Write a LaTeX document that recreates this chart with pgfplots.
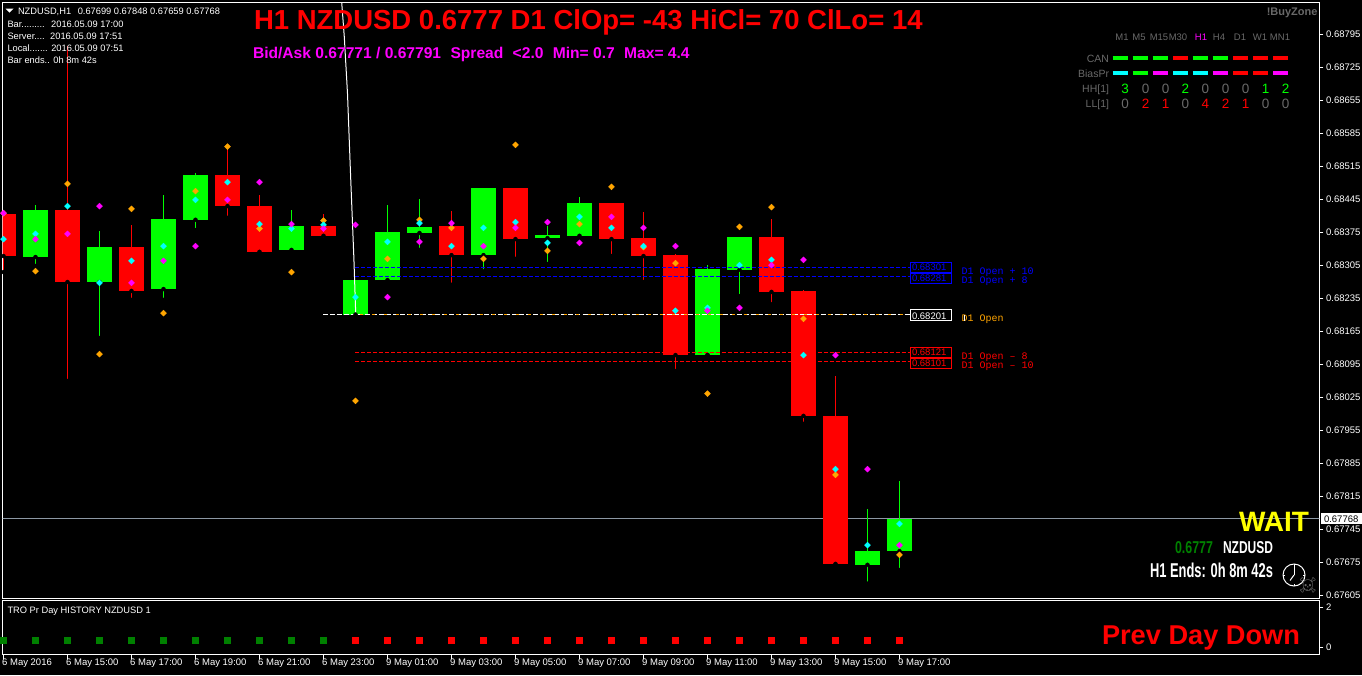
\documentclass[border=0pt]{standalone}
\usepackage{fontspec}
\setmainfont{Liberation Sans}
\newfontfamily\mono{Liberation Mono}
\newfontfamily\emojifont{Noto Emoji}
\usepackage{pgfplots}
\usepackage{pgfplotstable}
\pgfplotsset{compat=1.18}
\definecolor{lime}{HTML}{00FF00}
\definecolor{dkgreen}{HTML}{008000}
\definecolor{dimg}{HTML}{696969}
\definecolor{org}{HTML}{FFA500}
\definecolor{pline}{HTML}{8C98A4}
\definecolor{magenta}{HTML}{FF00FF}
\definecolor{cyan}{HTML}{00FFFF}
\definecolor{yellow}{HTML}{FFFF00}
\definecolor{blue}{HTML}{0000FF}
\definecolor{red}{HTML}{FF0000}
\definecolor{white}{HTML}{FFFFFF}
\definecolor{black}{HTML}{000000}
\newcommand\fs[1]{\fontsize{#1}{#1}\selectfont}

% i  body-low body-high wick-low wick-high
\pgfplotstableread{
i lo hi wl wh
0 0.68325 0.68414 0.68291 0.68423
2 0.68270 0.68423 0.68060 0.68771
4 0.68251 0.68344 0.68232 0.68391
7 0.68431 0.68497 0.68406 0.68554
8 0.68334 0.68431 0.68327 0.68455
10 0.68368 0.68389 0.68359 0.68414
14 0.68327 0.68389 0.68264 0.68421
16 0.68361 0.68470 0.68319 0.68470
19 0.68361 0.68438 0.68325 0.68438
20 0.68325 0.68363 0.68270 0.68419
21 0.68115 0.68327 0.68081 0.68329
24 0.68249 0.68366 0.68223 0.68404
25 0.67986 0.68251 0.67969 0.68253
26 0.67672 0.67986 0.67670 0.68071
}\bears
\pgfplotstableread{
i lo hi wl wh
1 0.68323 0.68423 0.68304 0.68433
3 0.68270 0.68344 0.68151 0.68378
5 0.68255 0.68404 0.68232 0.68455
6 0.68402 0.68497 0.68380 0.68501
9 0.68338 0.68389 0.68334 0.68423
11 0.68201 0.68274 0.68196 0.68274
12 0.68274 0.68376 0.68272 0.68433
13 0.68374 0.68387 0.68338 0.68446
15 0.68327 0.68470 0.68293 0.68470
17 0.68363 0.68370 0.68308 0.68389
18 0.68368 0.68438 0.68361 0.68450
22 0.68115 0.68298 0.68115 0.68306
23 0.68296 0.68366 0.68240 0.68366
27 0.67670 0.67700 0.67630 0.67789
28 0.67699 0.67768 0.67659 0.67848
}\bulls
\pgfplotstableread{
i cy ma or
0 0.68361 0.68416 0.68416
1 0.68372 0.68361 0.68293
2 0.68431 0.68372 0.68478
3 0.68268 0.68431 0.68117
4 0.68315 0.68268 0.68425
5 0.68346 0.68315 0.68204
6 0.68444 0.68346 0.68463
7 0.68482 0.68444 0.68557
8 0.68393 0.68482 0.68383
9 0.68383 0.68393 0.68291
10 0.68391 0.68383 0.68400
11 0.68238 0.68391 0.68018
12 0.68355 0.68238 0.68319
13 0.68395 0.68355 0.68402
14 0.68346 0.68395 0.68385
15 0.68385 0.68346 0.68319
16 0.68397 0.68385 0.68561
17 0.68353 0.68397 0.68336
18 0.68408 0.68353 0.68393
19 0.68385 0.68408 0.68472
20 0.68346 0.68385 0.68344
21 0.68209 0.68346 0.68310
22 0.68215 0.68209 0.68033
23 0.68306 0.68215 0.68387
24 0.68317 0.68306 0.68429
25 0.68115 0.68317 0.68192
26 0.67873 0.68115 0.67861
27 0.67712 0.67873 nan
28 0.67757 0.67712 0.67691
}\dots

\begin{document}
\begin{tikzpicture}
\fill[black] (0,0) rectangle (1362pt,675pt);
\pgfplotsset{
  frame/.style={
    scale only axis, axis line style={white,line width=1pt},
    tick style={white,line width=1pt}, major tick length=4pt,
    tick align=outside, ytick pos=right, 
    ticklabel style={text=white,font=\fs{9.5}},
    /pgf/number format/assume math mode=true,
    xmin=-0.03125, xmax=41.125, width=1317pt,
  }}
% ---------- price panel
\begin{axis}[frame, at={(2.5pt,76.5pt)}, anchor=south west, height=596pt,
  ymin=0.675986, ymax=0.688629, xtick=\empty,
  ytick={0.67605,0.67675,0.67745,0.67815,0.67885,0.67955,0.68025,0.68095,0.68165,0.68235,0.68305,0.68375,0.68445,0.68515,0.68585,0.68655,0.68725,0.68795},
  y tick label style={/pgf/number format/.cd,fixed,fixed zerofill,precision=5,/tikz/.cd,anchor=west,inner sep=0pt,xshift=2.5pt},
  scaled y ticks=false]
\addplot[pline,line width=1pt] coordinates {(-0.1,0.67768)(42,0.67768)};
\pgfplotsset{candle/.style 2 args={only marks,mark=none,forget plot,error bars/.cd,y dir=plus,y explicit,error mark=none,error bar style={#1,line width=#2}}}
\addplot[candle={red}{1pt}] table[x=i,y=wl,y error plus expr=\thisrow{wh}-\thisrow{wl}] {\bears};
\addplot[candle={lime}{1pt}] table[x=i,y=wl,y error plus expr=\thisrow{wh}-\thisrow{wl}] {\bulls};
\addplot[candle={red}{25pt}] table[x=i,y=lo,y error plus expr=\thisrow{hi}-\thisrow{lo}] {\bears};
\addplot[candle={lime}{25pt}] table[x=i,y=lo,y error plus expr=\thisrow{hi}-\thisrow{lo}] {\bulls};
\pgfplotsset{dot/.style={only marks,mark=square*,mark size=2.1pt,mark options={rotate=45,#1},#1,forget plot}}
\addplot[dot=org,unbounded coords=discard] table[x=i,y=or] {\dots};
\addplot[dot=cyan] table[x=i,y=cy] {\dots};
\addplot[dot=magenta] table[x=i,y=ma] {\dots};
% daily-open levels
\addplot[blue,line width=1.2pt,dash pattern=on 4pt off 2pt] coordinates {(11,0.68301)(28.33,0.68301)};
\addplot[blue,line width=1.2pt,dash pattern=on 4pt off 2pt] coordinates {(11,0.68281)(28.33,0.68281)};
\addplot[red,line width=1.2pt,dash pattern=on 4pt off 2pt] coordinates {(11,0.68121)(28.33,0.68121)};
\addplot[red,line width=1.2pt,dash pattern=on 4pt off 2pt] coordinates {(11,0.68101)(28.33,0.68101)};
\addplot[white,line width=1pt,dash pattern=on 5pt off 2pt] coordinates {(10,0.68201)(28.33,0.68201)};
\addplot[org,line width=1pt,dash pattern=on 3pt off 9pt] coordinates {(11.15,0.68201)(28.33,0.68201)};
% white trend line
\addplot[white,line width=1pt] coordinates {(10.569,0.68863)(10.65,0.68790)(10.75,0.68670)(10.85,0.68490)(10.95,0.68320)(11.01,0.68196)};
\end{axis}
% ---------- sub window
\begin{axis}[frame, at={(2.5pt,20.5pt)}, anchor=south west, height=54pt,
  ymin=-0.375, ymax=2.325, xtick pos=bottom,
  xtick={0,2,...,28}, ytick={0,2},
  xticklabels={6 May 2016,6 May 15:00,6 May 17:00,6 May 19:00,6 May 21:00,6 May 23:00,9 May 01:00,9 May 03:00,9 May 05:00,9 May 07:00,9 May 09:00,9 May 11:00,9 May 13:00,9 May 15:00,9 May 17:00},
  x tick label style={anchor=north west,inner sep=0pt,xshift=-1.5pt,yshift=-0.5pt},
  y tick label style={anchor=west,inner sep=0pt,xshift=2.5pt}]
\addplot[only marks,mark=square*,mark size=3pt,dkgreen] coordinates {(0,0.35)(1,0.35)(2,0.35)(3,0.35)(4,0.35)(5,0.35)(6,0.35)(7,0.35)(8,0.35)(9,0.35)(10,0.35)};
\addplot[only marks,mark=square*,mark size=3pt,red] coordinates {(11,0.35)(12,0.35)(13,0.35)(14,0.35)(15,0.35)(16,0.35)(17,0.35)(18,0.35)(19,0.35)(20,0.35)(21,0.35)(22,0.35)(23,0.35)(24,0.35)(25,0.35)(26,0.35)(27,0.35)(28,0.35)};
\end{axis}
% ---------- overlay in image pixels
\tikzset{every node/.append style={inner sep=0pt,outer sep=0pt},
  L/.style={anchor=base west,text=white,font=\fs{9.3}},
  R/.style={anchor=base east,text=dimg,font=\fs{9.5}},
  C/.style={anchor=base,text=dimg,font=\fs{9.5}},
  N/.style={anchor=base,text=dimg,font=\fs{13.5}},
  M/.style={anchor=base west,font=\fs{10}\mono}}
\begin{axis}[at={(0,0)},anchor=south west,scale only axis,width=1362pt,height=675pt,
  xmin=0,xmax=1362,ymin=0,ymax=675,y dir=reverse,hide axis,clip=false,
  unbounded coords=jump]
% indicator dashes
\addplot[lime,line width=4pt] coordinates {(1112.7,58)(1127.7,58)(0,nan)(1132.7,58)(1147.7,58)(0,nan)(1152.7,58)(1167.7,58)(0,nan)(1192.7,58)(1207.7,58)(0,nan)(1212.7,58)(1227.7,58)(0,nan)(1132.7,73)(1147.7,73)};
\addplot[red,line width=4pt] coordinates {(1173,58)(1188,58)(0,nan)(1233,58)(1248,58)(0,nan)(1253,58)(1268,58)(0,nan)(1273,58)(1288,58)(0,nan)(1233,73)(1248,73)(0,nan)(1253,73)(1268,73)};
\addplot[cyan,line width=4pt] coordinates {(1112.7,73)(1127.7,73)(0,nan)(1173,73)(1188,73)(0,nan)(1192.7,73)(1207.7,73)};
\addplot[magenta,line width=4pt] coordinates {(1152.7,73)(1167.7,73)(0,nan)(1212.7,73)(1227.7,73)(0,nan)(1273,73)(1288,73)};

\fill[white] (axis cs:5.5,8.5) -- (axis cs:13.5,8.5) -- (axis cs:9.5,12.5) -- cycle;
\node[L] at (axis cs:18,14) {NZDUSD,H1\hspace{4pt} 0.67699 0.67848 0.67659 0.67768};
\node[L] at (axis cs:7.5,27) {Bar.........\hspace{3pt} 2016.05.09 17:00};
\node[L] at (axis cs:7.5,39) {Server....\hspace{2pt} 2016.05.09 17:51};
\node[L] at (axis cs:7.5,51) {Local....... 2016.05.09 07:51};
\node[L] at (axis cs:7.5,63) {Bar ends.. 0h 8m 42s};
\node[anchor=base west,text=red,font=\fs{27.5}\bfseries] at (axis cs:254,29.3) {H1 NZDUSD 0.6777 D1 ClOp= -43 HiCl= 70 ClLo= 14};
\node[anchor=base west,text=magenta,font=\fs{15.6}\bfseries] at (axis cs:253,58.3) {Bid/Ask 0.67771 / 0.67791\hspace{5pt} Spread\hspace{5pt} <2.0\hspace{5pt} Min= 0.7\hspace{5pt} Max= 4.4};
\node[anchor=base east,text=dimg,font=\fs{11}\bfseries] at (axis cs:1317.5,15) {!BuyZone};
% timeframe grid
\node[C] at (axis cs:1122,40) {M1};
\node[C] at (axis cs:1139,40) {M5};
\node[C] at (axis cs:1159,40) {M15};
\node[C] at (axis cs:1178,40) {M30};
\node[C,text=magenta] at (axis cs:1201,40) {H1};
\node[C] at (axis cs:1219,40) {H4};
\node[C] at (axis cs:1240,40) {D1};
\node[C] at (axis cs:1260,40) {W1};
\node[C] at (axis cs:1280,40) {MN1};
\node[R,font=\fs{10.5}] at (axis cs:1109,62) {CAN};
\node[R,font=\fs{10.5}] at (axis cs:1109,77) {BiasPr};
\node[R,font=\fs{10.5}] at (axis cs:1109,92.5) {HH[1]};
\node[R,font=\fs{10.5}] at (axis cs:1109,107.5) {LL[1]};
\node[N,text=lime] at (axis cs:1125,93) {3};
\node[N] at (axis cs:1145.7,93) {0};
\node[N] at (axis cs:1165.7,93) {0};
\node[N,text=lime] at (axis cs:1185.3,93) {2};
\node[N] at (axis cs:1205.3,93) {0};
\node[N] at (axis cs:1225.7,93) {0};
\node[N] at (axis cs:1245.7,93) {0};
\node[N,text=lime] at (axis cs:1265.7,93) {1};
\node[N,text=lime] at (axis cs:1285.7,93) {2};
\node[N] at (axis cs:1125,108) {0};
\node[N,text=red] at (axis cs:1145.7,108) {2};
\node[N,text=red] at (axis cs:1165.7,108) {1};
\node[N] at (axis cs:1185.3,108) {0};
\node[N,text=red] at (axis cs:1205.3,108) {4};
\node[N,text=red] at (axis cs:1225.7,108) {2};
\node[N,text=red] at (axis cs:1245.7,108) {1};
\node[N] at (axis cs:1265.7,108) {0};
\node[N] at (axis cs:1285.7,108) {0};
% price boxes
\draw[blue,line width=1pt] (axis cs:910.5,262) rectangle (axis cs:951.5,272);
\draw[blue,line width=1pt] (axis cs:910.5,273) rectangle (axis cs:951.5,283);
\draw[white,line width=1pt] (axis cs:910.5,309) rectangle (axis cs:951.5,320.5);
\draw[red,line width=1pt] (axis cs:910.5,347) rectangle (axis cs:951.5,357);
\draw[red,line width=1pt] (axis cs:910.5,358) rectangle (axis cs:951.5,368);
\node[L,font=\fs{9.5},text=blue] at (axis cs:912,270.5) {0.68301};
\node[L,font=\fs{9.5},text=blue] at (axis cs:912,281) {0.68281};
\node[L,font=\fs{9.5},text=white] at (axis cs:912,319) {0.68201};
\node[L,font=\fs{9.5},text=red] at (axis cs:912,355.7) {0.68121};
\node[L,font=\fs{9.5},text=red] at (axis cs:912,366) {0.68101};
\node[M,text=blue] at (axis cs:961.7,274) {D1 Open + 10};
\node[M,text=blue] at (axis cs:961.7,283) {D1 Open + 8};
\node[M,text=org] at (axis cs:961.7,321.3) {D1 Open};
\node[M,text=red] at (axis cs:961.7,359.3) {D1 Open – 8};
\node[M,text=red] at (axis cs:961.7,368.3) {D1 Open – 10};
\draw[white,line width=1pt] (axis cs:964.5,315) -- (axis cs:964.5,321);
% current price tag
\fill[white] (axis cs:1321,513) rectangle (axis cs:1362,524);
\node[L,font=\fs{9.5},text=black] at (axis cs:1324,522) {0.67768};
% lower right block
\node[anchor=base west,text=yellow,font=\fs{28}\bfseries] at (axis cs:1239,531) {WAIT};
\node[anchor=base west,text=dkgreen,font=\bfseries] at (axis cs:1175,553) {\resizebox{38pt}{12pt}{0.6777}};
\node[anchor=base west,text=white,font=\bfseries] at (axis cs:1223,553) {\resizebox{50pt}{12pt}{NZDUSD}};
\node[anchor=base west,text=white,font=\bfseries] at (axis cs:1150,577) {\resizebox{123pt}{14.5pt}{H1 Ends: 0h 8m 42s}};
\node[anchor=base west,text=red,font=\fs{27.2}\bfseries] at (axis cs:1102,644) {Prev Day Down};
\node[L] at (axis cs:7.5,613) {TRO Pr Day HISTORY NZDUSD 1};
% clock
\draw[white,line width=1pt] (axis cs:1294,575) circle[radius=11pt];
\draw[white,line width=1pt] (axis cs:1294,575) -- (axis cs:1294,565);
\draw[white,line width=1pt] (axis cs:1294,575) -- (axis cs:1290,580.5);
\draw[white,line width=1pt] (axis cs:1294,564) -- (axis cs:1294,566);
\draw[white,line width=1pt] (axis cs:1294,584) -- (axis cs:1294,586);
\draw[white,line width=1pt] (axis cs:1283,575) -- (axis cs:1285,575);
\draw[white,line width=1pt] (axis cs:1303,575) -- (axis cs:1305,575);
\node[anchor=base,text=dimg,font=\fs{15}\emojifont] at (axis cs:1308,590) {☠};
\end{axis}
\pgfresetboundingbox
\path[use as bounding box] (0,0) rectangle (1362pt,675pt);
\end{tikzpicture}
\end{document}
